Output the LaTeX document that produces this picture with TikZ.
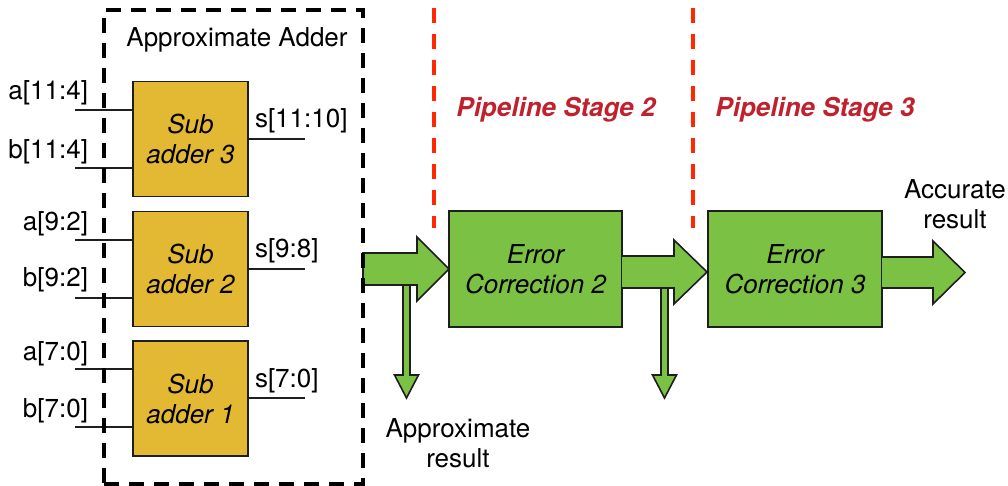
\documentclass[tikz,border=0pt]{standalone}
\usepackage{fontspec}
\setmainfont{TeX Gyre Heros}
\definecolor{adderyellow}{RGB}{227,184,50}
\definecolor{ecgreen}{RGB}{123,193,68}
\definecolor{pipered}{RGB}{255,40,0}
\definecolor{stagered}{RGB}{192,33,45}
\definecolor{edge}{RGB}{30,30,30}
\begin{document}
\begin{tikzpicture}[x=1pt,y=-1pt,
  every node/.style={font=\fontsize{26}{30}\selectfont, inner sep=0pt, outer sep=0pt},
  adder/.style={draw=edge, line width=1.6pt, fill=adderyellow, minimum width=115pt, minimum height=115pt, align=center, font=\fontsize{26}{30}\selectfont\itshape},
  ecbox/.style={draw=edge, line width=1.6pt, fill=ecgreen, minimum width=173pt, minimum height=116pt, align=center, font=\fontsize{26}{30}\selectfont\itshape},
  wire/.style={draw=edge, line width=1.6pt},
  fatarrow/.style={draw=edge, line width=1.6pt, fill=ecgreen, line join=miter},
  stagelabel/.style={font=\fontsize{26}{30}\selectfont\bfseries\itshape, text=stagered},
  stageline/.style={draw=pipered, line width=3.4pt, dash pattern=on 15pt off 11pt},
  groupbox/.style={draw=black, line width=3.3pt, dash pattern=on 15pt off 10pt, minimum width=259pt, minimum height=474pt},
  sig/.style={font=\fontsize{26}{30}\selectfont},
  result/.style={align=center, font=\fontsize{26}{30}\selectfont},
]
\useasboundingbox (0,0) rectangle (1008,486);

% sub adders
\node[adder] (sa3) at (190.5,139) {Sub\\adder 3};
\node[adder] (sa2) at (190.5,269) {Sub\\adder 2};
\node[adder] (sa1) at (190.5,398.5) {Sub\\adder 1};

% input wires
\coordinate (a3) at (75,110);
\coordinate (b3) at (75,168);
\coordinate (a2) at (75,240);
\coordinate (b2) at (75,298);
\coordinate (a1) at (75,369);
\coordinate (b1) at (75,427);
\draw[wire] (a3) -- (a3 -| sa3.west);
\draw[wire] (b3) -- (b3 -| sa3.west);
\draw[wire] (a2) -- (a2 -| sa2.west);
\draw[wire] (b2) -- (b2 -| sa2.west);
\draw[wire] (a1) -- (a1 -| sa1.west);
\draw[wire] (b1) -- (b1 -| sa1.west);

\node[sig, anchor=base east] (la3) at (88,100) {a[11:4]};
\node[sig, anchor=base east] (lb3) at (88,159) {b[11:4]};
\node[sig, anchor=base east] (la2) at (88,230) {a[9:2]};
\node[sig, anchor=base east] (lb2) at (88,286) {b[9:2]};
\node[sig, anchor=base east] (la1) at (88,360) {a[7:0]};
\node[sig, anchor=base east] (lb1) at (88,417) {b[7:0]};

% output wires
\coordinate (s3) at (305,139);
\coordinate (s2) at (305,269);
\coordinate (s1) at (305,398);
\draw[wire] (s3 -| sa3.east) -- (s3);
\draw[wire] (s2 -| sa2.east) -- (s2);
\draw[wire] (s1 -| sa1.east) -- (s1);
\node[sig, anchor=base west] (ls3) at (255,128) {s[11:10]};
\node[sig, anchor=base west] (ls2) at (255,258) {s[9:8]};
\node[sig, anchor=base west] (ls1) at (255,387) {s[7:0]};

% error correction boxes
\node[ecbox] (ec2) at (535.5,269) {Error\\Correction 2};
\node[ecbox, minimum width=174pt] (ec3) at (795,269) {Error\\Correction 3};

% down arrows (drawn first)
\draw[fatarrow] (403,285) -- (403,375) -- (394.5,375) -- (406.5,398) -- (418.5,375) -- (410,375) -- (410,285);
\draw[fatarrow] (661,288) -- (661,375) -- (652.5,375) -- (664.5,398) -- (676.5,375) -- (668,375) -- (668,288);

% big arrows
\draw[fatarrow] (363,253) -- (417,253) -- (417,237) -- (ec2.west) -- (417,301) -- (417,285) -- (363,285) -- cycle;
\draw[fatarrow] (ec2.east |- 0,256) -- (674,256) -- (674,240) -- (707,272) -- (674,304) -- (674,288) -- (ec2.east |- 0,288);
\draw[fatarrow] (ec3.east |- 0,257) -- (933,257) -- (933,241) -- (965,272.5) -- (933,304) -- (933,288) -- (ec3.east |- 0,288);

% approximate adder group
\node[groupbox] (group) at (233.5,247) {};
\node (grouptitle) at (237,40) {Approximate Adder};

% pipeline stages
\coordinate (p2top) at (434,8);
\coordinate (p2bot) at (434,228);
\coordinate (p3top) at (693,8);
\coordinate (p3bot) at (693,228);
\draw[stageline] (p2top) -- (p2bot);
\draw[stageline] (p3top) -- (p3bot);
\node[stagelabel, anchor=base] (st2) at (556,117) {Pipeline Stage 2};
\node[stagelabel, anchor=base] (st3) at (815,117) {Pipeline Stage 3};

% results
\node[result] (approxres) at (458,443) {Approximate\\result};
\node[result] (accres) at (955,204) {Accurate\\result};
\end{tikzpicture}
\end{document}
